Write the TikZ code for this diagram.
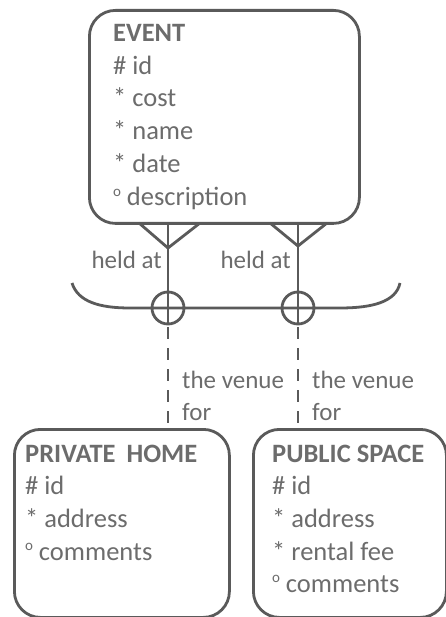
\documentclass[tikz,border=0pt]{standalone}
\usepackage{fontspec}
\setmainfont{Carlito}
\definecolor{erline}{HTML}{5A5A5A}
\definecolor{ertext}{HTML}{6C6C6C}
% small raised circle marking an optional attribute
\newcommand{\optmark}{\raisebox{0.36em}{\fontsize{15}{15}\selectfont o}\hspace{0.22em}}
\tikzset{
  entity/.style={draw=erline, line width=2.8pt, rounded corners=26pt},
  attr/.style={anchor=base west, inner sep=0pt, text=ertext, font=\fontsize{26.5}{33}\selectfont},
  rel/.style={draw=erline, line width=2.8pt},
  optrel/.style={draw=erline, line width=2.8pt, dash pattern=on 12pt off 9pt, dash phase=-2pt},
  rellabel/.style={inner sep=0pt, text=ertext, font=\fontsize{25}{28}\selectfont},
}
\begin{document}
\begin{tikzpicture}[x=1pt,y=-1pt]
\useasboundingbox (0,0) rectangle (446,617);

% entity boxes
\node[entity, minimum width=270pt, minimum height=213pt, anchor=north west] (event) at (88,9) {};
\node[entity, minimum width=215pt, minimum height=188pt, anchor=north west] (home) at (13,428) {};
\node[entity, minimum width=193pt, minimum height=188pt, anchor=north west] (public) at (252,428) {};

% attribute lines
\node[attr] (evT) at (113,42) {\textbf{EVENT}};
\node[attr] (ev1) at (113,75) {\# id};
\node[attr] (ev2) at (113,107) {* cost};
\node[attr] (ev3) at (113,140) {* name};
\node[attr] (ev4) at (113,173) {* date};
\node[attr] (ev5) at (113,206) {\optmark description};

\node[attr] (phT) at (25,462) {\textbf{PRIVATE\hspace{5pt} HOME}};
\node[attr] (ph1) at (25,494) {\# id};
\node[attr] (ph2) at (25,527) {* address};
\node[attr] (ph3) at (25,560) {\optmark comments};

\node[attr] (psT) at (272,462) {\textbf{PUBLIC SPACE}};
\node[attr] (ps1) at (272,494) {\# id};
\node[attr] (ps2) at (272,527) {* address};
\node[attr] (ps3) at (272,560) {* rental fee};
\node[attr] (ps4) at (272,592) {\optmark comments};

% crow's feet and arc points
\coordinate (lTop) at (168,223);
\coordinate (lApex) at (168,248);
\coordinate (lFootA) at (139,223);
\coordinate (lFootB) at (200,223);
\coordinate (rTop) at (298,223);
\coordinate (rApex) at (298,246);
\coordinate (rFootA) at (270,223);
\coordinate (rFootB) at (327,223);

\node[circle, draw=erline, line width=2.8pt, minimum size=32pt, inner sep=0pt] (lArc) at (168,308) {};
\node[circle, draw=erline, line width=2.8pt, minimum size=32pt, inner sep=0pt] (rArc) at (298,308) {};

\coordinate (arcL) at (72,283);
\coordinate (arcR) at (400,283);

% relationship lines from EVENT
\draw[rel] (lFootA) -- (lApex) -- (lFootB);
\draw[rel] (rFootA) -- (rApex) -- (rFootB);
\draw[rel] (lTop) -- (lArc.south);
\draw[rel] (rTop) -- (rArc.south);

% exclusive arc
\draw[rel] (arcL) .. controls (78,302) and (100,308) .. (130,308) -- (340,308)
  .. controls (372,308) and (396,302) .. (arcR);

% optional ends towards the subtypes
\draw[optrel] (lArc.south) -- (lArc.south |- home.north);
\draw[optrel] (rArc.south) -- (rArc.south |- public.north);

% relationship labels
\node[rellabel, anchor=base east] (held1) at (162,268) {held at};
\node[rellabel, anchor=base east] (held2) at (291,268) {held at};
\node[rellabel, anchor=base west] (venue1) at (182,388) {the venue};
\node[rellabel, anchor=base west] (for1) at (182,420) {for};
\node[rellabel, anchor=base west] (venue2) at (312,388) {the venue};
\node[rellabel, anchor=base west] (for2) at (312,420) {for};
\end{tikzpicture}
\end{document}
